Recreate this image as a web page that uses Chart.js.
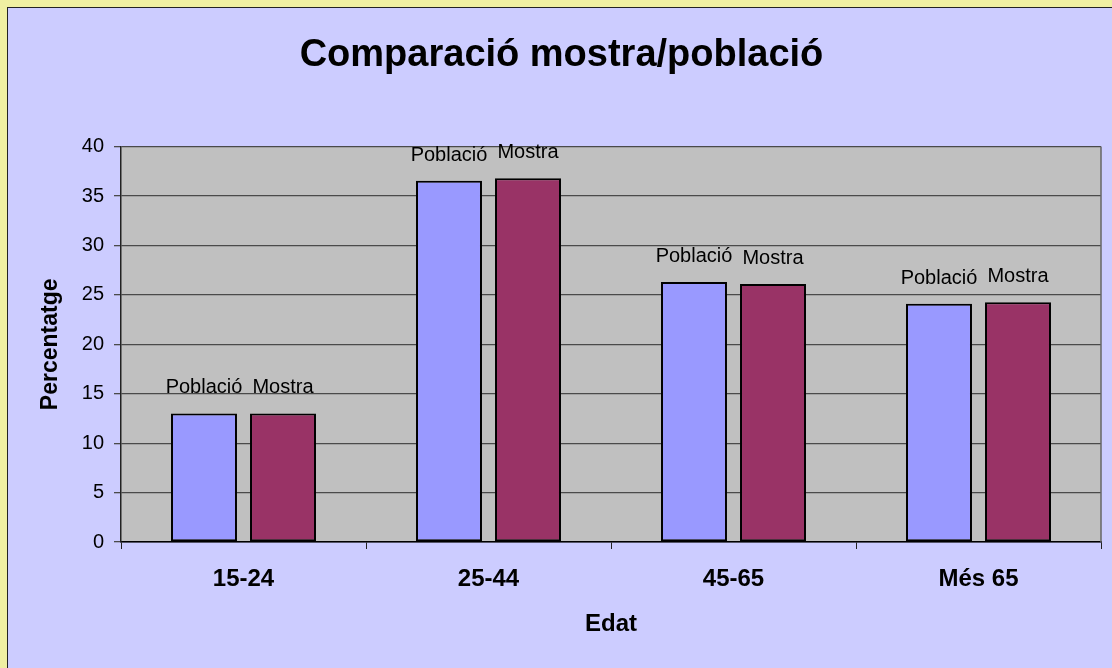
<!DOCTYPE html>
<html>
<head>
<meta charset="utf-8">
<script src="https://cdn.jsdelivr.net/npm/chart.js@4/dist/chart.umd.min.js"></script>
<style>
  html, body { margin: 0; padding: 0; overflow: hidden; background: #EFEFA2; width: 1112px; height: 668px; }
  #wrap { position: absolute; left: 7px; top: 7px; border-left: 1px solid #222; border-top: 1px solid #222; background: #CCCCFF; }
  canvas { display: block; }
</style>
</head>
<body>
<div id="wrap"><canvas id="c" width="1118" height="670"></canvas></div>
<script>
const titleText = 'Comparació mostra/població';
const categories = ['15-24', '25-44', '45-65', 'Més 65'];
const seriesNames = ['Població', 'Mostra'];
const poblacio = [13.0, 36.55, 26.3, 24.1];
const mostra = [13.0, 36.8, 26.1, 24.25];
const yTitle = 'Percentatge';
const xTitle = 'Edat';

const FONT = '"Liberation Sans", Arial, sans-serif';

const plotBg = {
  id: 'plotBg',
  beforeDraw(chart) {
    const {ctx, chartArea: a} = chart;
    ctx.save();
    ctx.fillStyle = '#C0C0C0';
    ctx.fillRect(a.left, a.top, a.right - a.left, a.bottom - a.top);
    ctx.restore();
  },
  afterDraw(chart) {
    const {ctx, chartArea: a} = chart;
    ctx.save();
    ctx.strokeStyle = '#666';
    ctx.lineWidth = 1.5;
    ctx.beginPath();
    ctx.moveTo(a.right, a.top);
    ctx.lineTo(a.right, a.bottom);
    ctx.stroke();
    ctx.restore();
  }
};

const barLabels = {
  id: 'barLabels',
  afterDatasetsDraw(chart) {
    const {ctx} = chart;
    ctx.save();
    ctx.font = '20px ' + FONT;
    ctx.fillStyle = '#000';
    ctx.textAlign = 'center';
    ctx.textBaseline = 'alphabetic';
    chart.data.datasets.forEach((ds, i) => {
      const meta = chart.getDatasetMeta(i);
      meta.data.forEach(el => {
        ctx.fillText(ds.label, el.x, el.y - 20);
      });
    });
    ctx.restore();
  }
};

new Chart(document.getElementById('c'), {
  type: 'bar',
  data: {
    labels: categories,
    datasets: [
      { label: seriesNames[0], data: poblacio, backgroundColor: '#9999FF', borderColor: '#000', borderWidth: 2, borderSkipped: false },
      { label: seriesNames[1], data: mostra, backgroundColor: '#993366', borderColor: '#000', borderWidth: 2, borderSkipped: false }
    ]
  },
  options: {
    responsive: false,
    animation: false,
    events: [],
    categoryPercentage: 0.645,
    barPercentage: 0.835,
    layout: { padding: { left: 14, right: 25, top: 0, bottom: 0 } },
    plugins: {
      legend: { display: false },
      tooltip: { enabled: false },
      title: {
        display: true,
        text: titleText,
        color: '#000',
        font: { family: FONT, size: 38, weight: 'bold' },
        padding: { top: 25, bottom: 68 }
      }
    },
    scales: {
      x: {
        afterFit(s) { s.height = 136; },
        grid: { drawOnChartArea: false, drawTicks: true, tickLength: 7, color: '#222', offset: true },
        border: { display: true, color: '#000', width: 1.5 },
        ticks: { color: '#000', padding: 16, font: { family: FONT, size: 24, weight: 'bold' } },
        title: { display: true, text: xTitle, color: '#000', font: { family: FONT, size: 24, weight: 'bold' }, padding: { top: 0, bottom: 39 } }
      },
      y: {
        min: 0, max: 40,
        afterFit(s) { s.width = 99; },
        grid: { color: '#4a4a4a', lineWidth: 1.3, drawTicks: true, tickLength: 7 },
        border: { display: true, color: '#222', width: 1.5 },
        ticks: { stepSize: 5, color: '#000', padding: 10, font: { family: FONT, size: 20 } },
        title: { display: true, text: yTitle, color: '#000', font: { family: FONT, size: 23, weight: 'bold' }, padding: { top: 15, bottom: 0 } }
      }
    }
  },
  plugins: [plotBg, barLabels]
});
</script>
</body>
</html>
